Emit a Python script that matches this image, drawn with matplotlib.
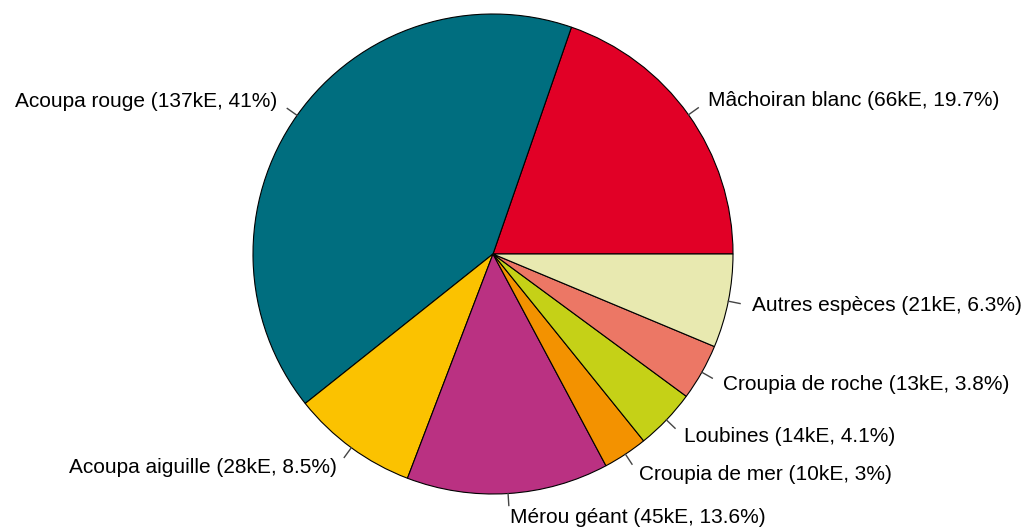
import numpy as np
import matplotlib

matplotlib.use("Agg")

import matplotlib.pyplot as plt

species = [
    "Mâchoiran blanc",
    "Acoupa rouge",
    "Acoupa aiguille",
    "Mérou géant",
    "Croupia de mer",
    "Loubines",
    "Croupia de roche",
    "Autres espèces",
]
value_ke = [66, 137, 28, 45, 10, 14, 13, 21]
percent = [19.7, 41, 8.5, 13.6, 3, 4.1, 3.8, 6.3]
percent_text = ["19.7", "41", "8.5", "13.6", "3", "4.1", "3.8", "6.3"]
colors = [
    "#E10026",
    "#006E7F",
    "#FBC200",
    "#BA3182",
    "#F39200",
    "#C5D117",
    "#EC7765",
    "#E8E9B0",
]

labels = [f"{s} ({v}kE, {p}%)" for s, v, p in zip(species, value_ke, percent_text)]

W, H = 1030, 529
fig = plt.figure(figsize=(W / 100, H / 100), dpi=100)
ax = fig.add_axes([0, 0, 1, 1])

cx, cy, r = 493, H - 254, 240

wedges, _ = ax.pie(
    percent,
    colors=colors,
    startangle=0,
    counterclock=True,
    center=(cx, cy),
    radius=r,
    wedgeprops=dict(edgecolor="black", linewidth=0.8),
    frame=True,
)
ax.axis("off")
ax.set_xlim(0, W)
ax.set_ylim(0, H)
ax.set_aspect("equal")

# R-style labels: tick from rim to 1.05 r, text at 1.1 r
for w, label in zip(wedges, labels):
    ang = np.deg2rad((w.theta1 + w.theta2) / 2)
    c, s = np.cos(ang), np.sin(ang)
    ax.plot(
        [cx + r * c, cx + 1.05 * r * c],
        [cy + r * s, cy + 1.05 * r * s],
        color="#444444",
        linewidth=1,
    )
    ax.text(
        cx + 1.1 * r * c,
        cy + 1.1 * r * s,
        label,
        ha="left" if c > 0 else "right",
        va="center",
        fontsize=15,
        family="Liberation Sans",
        color="black",
    )

fig.savefig("out.png", dpi=100)
